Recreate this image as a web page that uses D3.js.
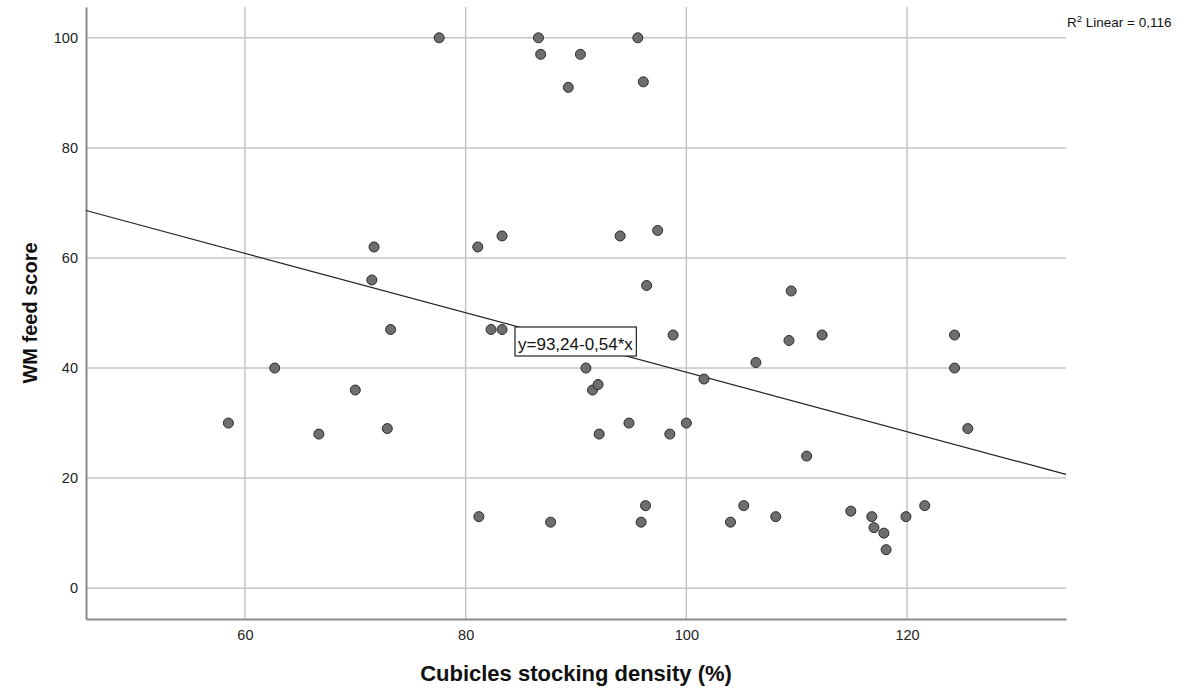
<!DOCTYPE html>
<html>
<head>
<meta charset="utf-8">
<script src="https://cdn.jsdelivr.net/npm/d3@7"></script>
<style>
  body { margin: 0; background: #fff; }
  text { font-family: "Liberation Sans", Arial, sans-serif; }
</style>
</head>
<body>
<div id="chart"></div>
<script>
// stocking density (%) and WM feed score
var density = [58.5, 62.7, 66.7, 70.0, 71.7, 71.5, 73.2, 72.9, 77.6, 81.1,
    81.2, 82.3, 83.3, 83.3, 86.6, 86.8, 87.7, 89.3, 90.4, 90.9,
    91.5, 92.0, 92.1, 94.0, 94.8, 95.6, 96.1, 95.9, 96.3, 96.4,
    97.4, 98.5, 98.8, 100.0, 101.6, 104.0, 105.2, 106.3, 108.1, 109.3,
    109.5, 110.9, 112.3, 114.9, 116.8, 117.0, 117.9, 118.1, 119.9, 121.6,
    124.3, 124.3, 125.5];
var feedScore = [30, 40, 28, 36, 62, 56, 47, 29, 100, 62,
    13, 47, 47, 64, 100, 97, 12, 91, 97, 40,
    36, 37, 28, 64, 30, 100, 92, 12, 15, 55,
    65, 28, 46, 30, 38, 12, 15, 41, 13, 45,
    54, 24, 46, 14, 13, 11, 10, 7, 13, 15,
    46, 40, 29];

var xTicks = [60, 80, 100, 120];
var yTicks = [0, 20, 40, 60, 80, 100];

// fitted line from the chart
var intercept = 93.24;
var slope = -0.54;
var fitLabel = "y=93,24-0,54*x";
var r2Label = " Linear = 0,116";

var W = 1199, H = 693;
var margin = {left: 86, right: 133, top: 7, bottom: 74};
var width = W - margin.left - margin.right;
var height = H - margin.top - margin.bottom;

var svg = d3.select("#chart").append("svg")
    .attr("width", W)
    .attr("height", H);

var g = svg.append("g")
    .attr("transform", "translate(" + margin.left + "," + margin.top + ")");

var x = d3.scaleLinear().domain([45.6, 134.4]).range([0, width]);
var y = d3.scaleLinear().domain([-5.6, 105.6]).range([height, 0]);

// grid
g.append("g")
    .selectAll("line")
    .data(yTicks)
    .enter().append("line")
    .attr("x1", 0).attr("x2", width)
    .attr("y1", function(d) { return y(d); })
    .attr("y2", function(d) { return y(d); })
    .attr("stroke", "#c4c4c4")
    .attr("stroke-width", 1.5);

g.append("g")
    .selectAll("line")
    .data(xTicks)
    .enter().append("line")
    .attr("y1", 0).attr("y2", height)
    .attr("x1", function(d) { return x(d); })
    .attr("x2", function(d) { return x(d); })
    .attr("stroke", "#c4c4c4")
    .attr("stroke-width", 1.5);

// axes
var xAxis = g.append("g")
    .attr("transform", "translate(0," + height + ")")
    .call(d3.axisBottom(x).tickValues(xTicks).tickSize(0).tickPadding(11));
var yAxis = g.append("g")
    .call(d3.axisLeft(y).tickValues(yTicks).tickSize(0).tickPadding(8));

[xAxis, yAxis].forEach(function(a) {
    a.select(".domain").attr("stroke", "#8a8a8a").attr("stroke-width", 2);
    a.selectAll("text")
        .attr("fill", "#222")
        .style("font-size", "14.5px")
        .style("font-family", "Liberation Sans, Arial, sans-serif");
});

// regression line
var xd = x.domain();
g.append("line")
    .attr("x1", x(xd[0])).attr("y1", y(intercept + slope * xd[0]))
    .attr("x2", x(xd[1])).attr("y2", y(intercept + slope * xd[1]))
    .attr("stroke", "#222")
    .attr("stroke-width", 1.2);

// points
var pts = density.map(function(d, i) { return {x: d, y: feedScore[i]}; });
g.append("g")
    .selectAll("circle")
    .data(pts)
    .enter().append("circle")
    .attr("cx", function(d) { return x(d.x); })
    .attr("cy", function(d) { return y(d.y); })
    .attr("r", 5)
    .attr("fill", "#6e6e6e")
    .attr("stroke", "#2b2b2b")
    .attr("stroke-width", 1);

// equation label box
var lab = g.append("g").attr("transform", "translate(" + (515 - margin.left) + "," + (327 - margin.top) + ")");
var labText = lab.append("text")
    .attr("x", 3)
    .attr("y", 23)
    .style("font-size", "17px")
    .attr("fill", "#111")
    .text(fitLabel);
var bb = labText.node().getBBox();
lab.insert("rect", "text")
    .attr("x", 0).attr("y", 0)
    .attr("width", bb.width + 6)
    .attr("height", 29)
    .attr("fill", "#fff")
    .attr("stroke", "#222")
    .attr("stroke-width", 1.2);

// R2 label
var r2 = svg.append("text")
    .attr("x", 1067)
    .attr("y", 27)
    .style("font-size", "13.5px")
    .attr("fill", "#111");
r2.append("tspan").text("R");
r2.append("tspan").attr("dy", -5).style("font-size", "9.5px").text("2");
r2.append("tspan").attr("dy", 5).text(r2Label);

// axis titles
svg.append("text")
    .attr("x", margin.left + width / 2)
    .attr("y", 681)
    .attr("text-anchor", "middle")
    .style("font-size", "22px")
    .style("font-weight", "bold")
    .attr("fill", "#111")
    .text("Cubicles stocking density (%)");

svg.append("text")
    .attr("transform", "translate(37," + (margin.top + height / 2) + ") rotate(-90)")
    .attr("text-anchor", "middle")
    .style("font-size", "20px")
    .style("font-weight", "bold")
    .attr("fill", "#111")
    .text("WM feed score");
</script>
</body>
</html>
